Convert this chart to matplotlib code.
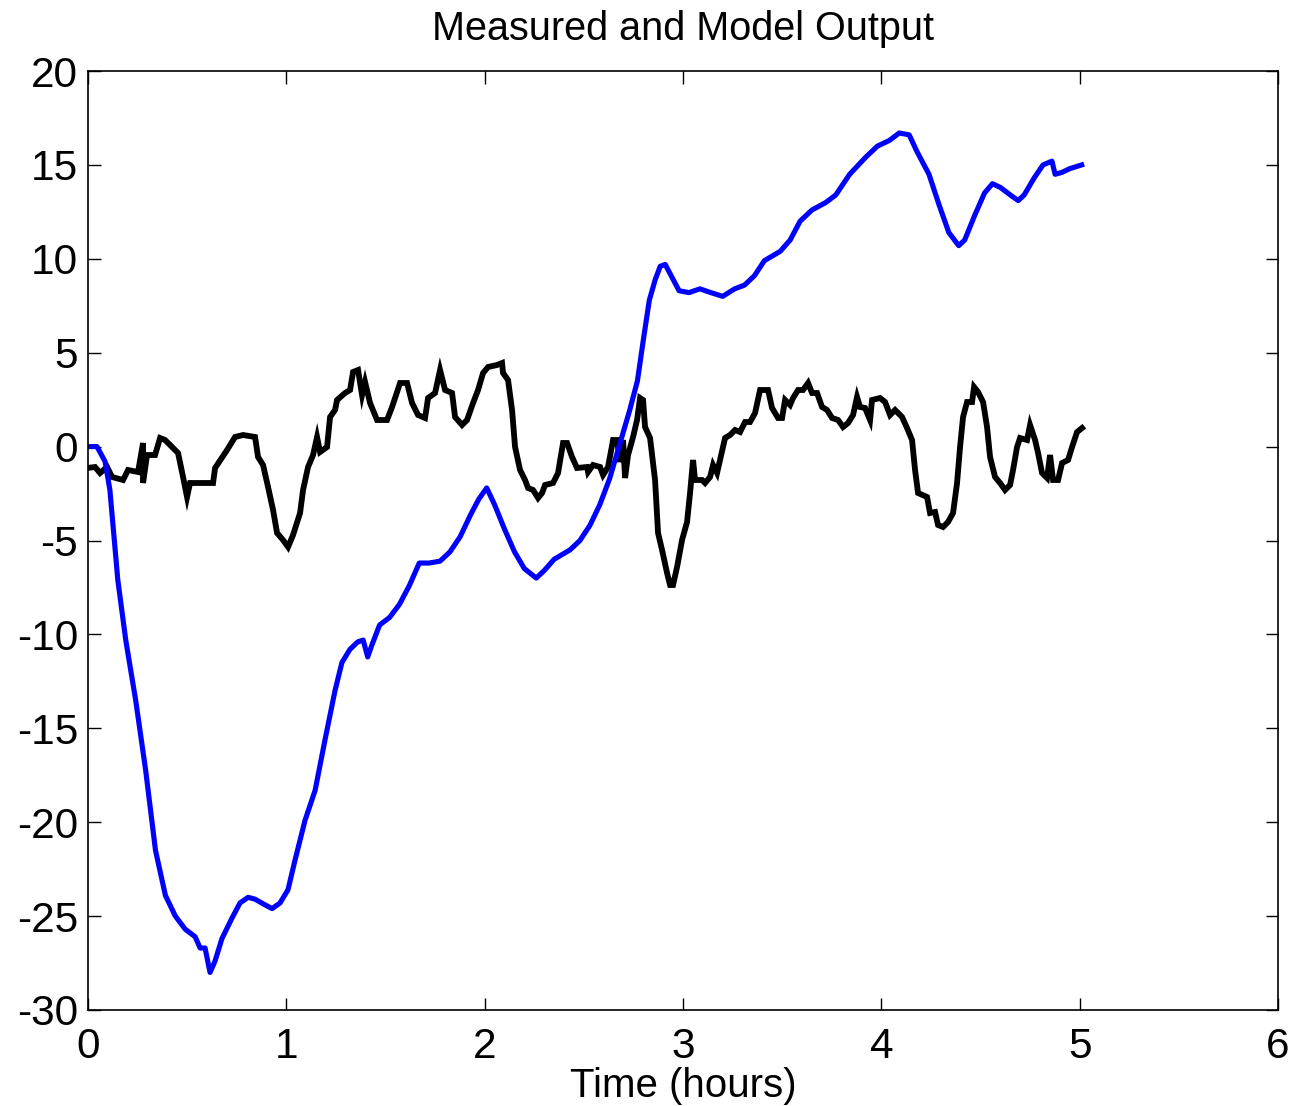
import matplotlib
matplotlib.use("Agg")
import matplotlib.pyplot as plt
import numpy as np

# Model output (blue)
model_t = [0, 0.045, 0.086, 0.11, 0.15, 0.19, 0.24, 0.29, 0.34, 0.39, 0.44, 0.49, 0.54, 0.565,
           0.59, 0.615, 0.64, 0.675, 0.726, 0.766, 0.807, 0.842, 0.892, 0.928, 0.968, 1.008,
           1.044, 1.094, 1.145, 1.195, 1.245, 1.28, 1.32, 1.36, 1.387, 1.41, 1.43, 1.47, 1.52,
           1.57, 1.62, 1.67, 1.72, 1.775, 1.825, 1.876, 1.93, 1.97, 2.01, 2.05, 2.10, 2.15,
           2.20, 2.26, 2.30, 2.35, 2.43, 2.48, 2.53, 2.58, 2.63, 2.68, 2.73, 2.77, 2.80, 2.83,
           2.86, 2.885, 2.91, 2.94, 2.98, 3.03, 3.085, 3.14, 3.20, 3.26, 3.31, 3.36, 3.41,
           3.49, 3.54, 3.59, 3.65, 3.72, 3.77, 3.84, 3.92, 3.98, 4.04, 4.09, 4.14, 4.18, 4.24,
           4.29, 4.34, 4.39, 4.42, 4.47, 4.52, 4.56, 4.60, 4.65, 4.69, 4.72, 4.77, 4.815,
           4.86, 4.876, 4.91, 4.95, 5.01]
model_y = [0, 0, -0.8, -2.3, -7.1, -10.3, -13.5, -17.2, -21.5, -23.9, -25.0, -25.7, -26.1, -26.7,
           -26.7, -28.0, -27.4, -26.2, -25.1, -24.3, -24.0, -24.1, -24.4, -24.6, -24.3, -23.6,
           -22.0, -19.9, -18.3, -15.6, -13.0, -11.5, -10.8, -10.4, -10.3, -11.2, -10.6, -9.5, -9.1,
           -8.4, -7.4, -6.2, -6.2, -6.1, -5.6, -4.8, -3.6, -2.8, -2.2, -3.1, -4.4, -5.6,
           -6.5, -7.0, -6.6, -6.0, -5.5, -5.0, -4.2, -3.1, -1.7, 0.1, 1.9, 3.5, 5.7, 7.8,
           8.9, 9.6, 9.7, 9.1, 8.3, 8.2, 8.4, 8.2, 8.0, 8.4, 8.6, 9.1, 9.9,
           10.4, 11.0, 12.0, 12.6, 13.0, 13.4, 14.5, 15.4, 16.0, 16.3, 16.7, 16.6, 15.7, 14.5,
           12.9, 11.4, 10.7, 11.0, 12.3, 13.5, 14.0, 13.8, 13.4, 13.1, 13.4, 14.3, 15.0,
           15.2, 14.5, 14.6, 14.8, 15.0]

# Measured output (black), pixel-read points (px, py)
meas_px = [87, 95, 100, 107, 112, 123, 128, 138, 143, 143, 147, 155, 160, 165, 172, 178, 183, 187,
           190, 213, 215, 227, 235, 243, 255, 258, 263, 268, 273, 277, 283, 288, 293, 300, 303,
           308, 313, 317, 320, 327, 330, 335, 337, 345, 350, 353, 358, 362, 365, 370, 377, 387,
           392, 400, 407, 412, 418, 425, 428, 435, 440, 445, 452, 455, 462, 467, 473, 478, 483,
           488, 497, 502, 503, 508, 512, 515, 520, 525, 528, 533, 538, 542, 545, 553, 558, 563,
           567, 572, 577, 587, 588, 593, 600, 603, 608, 613, 617, 620, 623, 625, 628, 633, 637,
           640, 643, 645, 650, 655, 658, 662, 667, 670, 673, 677, 682, 687, 690, 693, 695, 702,
           705, 710, 713, 717, 720, 725, 730, 735, 740, 745, 750, 755, 760, 768, 772, 778, 782,
           785, 790, 793, 798, 803, 808, 812, 817, 822, 827, 832, 838, 843, 848, 853, 857, 860,
           865, 870, 872, 880, 885, 890, 895, 902, 907, 912, 915, 918, 927, 930, 935, 938, 943,
           948, 953, 957, 960, 963, 967, 972, 974, 978, 983, 987, 990, 995, 1000, 1005, 1010,
           1013, 1017, 1020, 1027, 1030, 1035, 1038, 1042, 1047, 1050, 1053, 1058, 1062, 1068,
           1072, 1077, 1082]
meas_py = [468, 467, 473, 467, 477, 480, 470, 472, 443, 483, 455, 455, 438, 440, 447, 453, 477, 497,
           483, 483, 468, 450, 437, 435, 437, 457, 465, 487, 510, 533, 540, 547, 535, 513, 490,
           467, 455, 437, 452, 447, 417, 410, 400, 393, 390, 372, 370, 395, 382, 403, 420, 420,
           407, 383, 383, 403, 415, 418, 398, 393, 370, 390, 393, 417, 425, 420, 403, 390, 373,
           367, 365, 363, 373, 380, 410, 447, 470, 480, 488, 490, 498, 493, 485, 483, 473, 443,
           443, 457, 468, 467, 472, 465, 467, 475, 467, 440, 440, 462, 440, 478, 455, 437, 420,
           398, 400, 427, 438, 480, 533, 550, 573, 585, 585, 567, 540, 522, 493, 460, 480, 480,
           483, 477, 465, 473, 460, 438, 435, 430, 432, 422, 422, 413, 390, 390, 408, 418, 418,
           400, 405, 398, 390, 390, 383, 393, 393, 407, 410, 418, 420, 427, 423, 415, 397, 407,
           408, 420, 400, 398, 402, 415, 410, 417, 428, 440, 470, 493, 497, 513, 512, 525, 527,
           522, 513, 483, 447, 417, 402, 402, 387, 392, 402, 427, 457, 477, 483, 490, 485,
           470, 447, 438, 440, 425, 440, 453, 473, 478, 455, 480, 480, 463, 460,
           447, 432, 428]

meas_t = [(p - 88) / 198.33 for p in meas_px]
meas_y = [(446.6 - p) / 18.78 for p in meas_py]

xticks = [0, 1, 2, 3, 4, 5, 6]
yticks = [-30, -25, -20, -15, -10, -5, 0, 5, 10, 15, 20]

plt.rcParams['font.family'] = ['Liberation Sans', 'DejaVu Sans']

fig = plt.figure(figsize=(12.95, 11.06), dpi=100)
ax = fig.add_axes([0.068, 0.0868, 0.9189, 0.849])

ax.plot(meas_t, meas_y, color='black', lw=4.2, solid_joinstyle='miter')
ax.plot(model_t, model_y, color='#0000ff', lw=3.7)

ax.set_xlim(0, 6)
ax.set_ylim(-30, 20)
ax.set_xticks(xticks)
ax.set_yticks(yticks)
ax.set_xticklabels([str(v) for v in xticks])
ax.set_yticklabels([str(v) for v in yticks])
ax.tick_params(direction='in', length=9, width=1, top=True, right=True, labelsize=30.5, pad=7)
ax.tick_params(axis='x', pad=12)
for s in ax.spines.values():
    s.set_linewidth(1.2)

ax.set_title('Measured and Model Output', fontsize=28.5, pad=22)
ax.set_xlabel('Time (hours)', fontsize=29, labelpad=0)

fig.savefig('out.png', dpi=100)
